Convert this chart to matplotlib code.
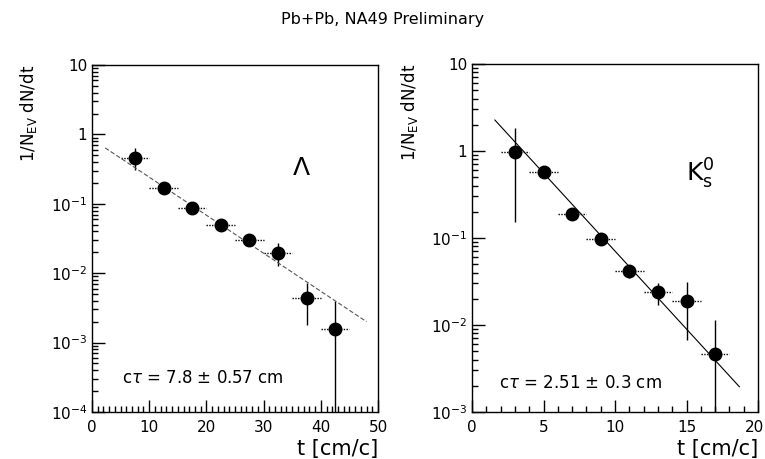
import numpy as np
import matplotlib
matplotlib.use("Agg")
import matplotlib.pyplot as plt
from matplotlib.ticker import MultipleLocator, LogLocator, FixedLocator, NullFormatter

plt.rcParams['font.family'] = ['DejaVu Sans']
plt.rcParams['mathtext.fontset'] = 'dejavusans'

# Lambda panel
lam_t = [7.5, 12.5, 17.5, 22.5, 27.5, 32.5, 37.5, 42.5]
lam_y = [0.46, 0.17, 0.088, 0.050, 0.030, 0.0195, 0.0044, 0.00155]
lam_hi = [0.63, 0.19, 0.097, 0.055, 0.034, 0.027, 0.0072, 0.0040]
lam_lo = [0.31, 0.15, 0.080, 0.045, 0.026, 0.0125, 0.0018, 0.00001]
lam_fit_t = [2.3, 48.0]
lam_fit_y = [0.64, 0.002]

# K0s panel
k_t = [3, 5, 7, 9, 11, 13, 15, 17]
k_y = [0.97, 0.57, 0.19, 0.097, 0.042, 0.024, 0.019, 0.0046]
k_hi = [1.85, 0.65, 0.22, 0.11, 0.048, 0.030, 0.031, 0.0114]
k_lo = [0.153, 0.50, 0.165, 0.085, 0.035, 0.017, 0.0068, 0.0001]
k_fit_t = [1.6, 18.7]
k_fit_y = [2.27, 0.00195]


def ytick_label(v):
    if v == 1:
        return "1"
    if v == 10:
        return "10"
    return r"$\mathregular{10^{%d}}$" % int(round(np.log10(v)))


def panel(ax, t, y, hi, lo, xw, fit_t, fit_y, fit_style, xmax, xmajor, ymin, text, label):
    y = np.array(y)
    yerr = [y - np.array(lo), np.array(hi) - y]
    ax.errorbar(t, y, xerr=xw, fmt='none', ecolor='black', elinewidth=1.0,
                capsize=0).lines[2][0].set_linestyle((0, (1, 1)))
    ax.errorbar(t, y, yerr=yerr, fmt='none', ecolor='black', elinewidth=1.0, capsize=0)
    ax.plot(t, y, 'o', color='black', markersize=9, zorder=3)
    ax.plot(fit_t, fit_y, **fit_style)
    ax.set_yscale('log')
    ax.set_xlim(0, xmax)
    ax.set_ylim(ymin, 10)
    ax.xaxis.set_minor_locator(MultipleLocator(1))
    xt = np.arange(0, xmax + 1, xmajor)
    ax.set_xticks(xt)
    ax.set_xticklabels([str(int(v)) for v in xt])
    majors = [10.0 ** k for k in range(int(np.log10(ymin)), 2)]
    ax.yaxis.set_major_locator(FixedLocator(majors))
    ax.set_yticklabels([ytick_label(v) for v in majors])
    ax.yaxis.set_minor_locator(LogLocator(base=10, subs=np.arange(2, 10)))
    ax.yaxis.set_minor_formatter(NullFormatter())
    ax.tick_params(which='both', direction='in', top=False, right=False,
                   labelsize=11, width=1.0)
    ax.tick_params(which='major', length=9)
    ax.tick_params(which='minor', length=4)
    ax.tick_params(axis='x', pad=6)
    for s in ax.spines.values():
        s.set_linewidth(1.0)
    ax.set_ylabel(r"1/N$_{\mathregular{EV}}$ dN/dt", fontsize=12, loc='top', labelpad=8)
    ax.set_xlabel("t [cm/c]", fontsize=15, loc='right', labelpad=3)
    ax.text(text[0], text[1], text[2], fontsize=12)
    ax.text(label[0], label[1], label[2], fontsize=18)


fig = plt.figure(figsize=(7.65, 4.59), dpi=100)
ax1 = fig.add_axes([92 / 765, 47 / 459, 286 / 765, 347 / 459])
ax2 = fig.add_axes([472 / 765, 47 / 459, 286 / 765, 348 / 459])

panel(ax1, lam_t, lam_y, lam_hi, lam_lo, 2.5, lam_fit_t, lam_fit_y,
      dict(color='#555555', linestyle=(0, (4, 2)), linewidth=0.8),
      50, 10, 1e-4, (5.2, 2.6e-4, r"c$\tau$ = 7.8 $\pm$ 0.57 cm"),
      (35.0, 0.26, r"$\Lambda$"))
panel(ax2, k_t, k_y, k_hi, k_lo, 1.0, k_fit_t, k_fit_y,
      dict(color='black', linestyle='-', linewidth=0.8),
      20, 5, 1e-3, (1.9, 1.9e-3, r"c$\tau$ = 2.51 $\pm$ 0.3 cm"),
      (15.0, 0.45, r"K$^{\mathregular{0}}_{\mathregular{s}}$"))

# last label of the right panel sits flush with the figure edge
labels2 = [t.get_text() for t in ax2.get_xticklabels()]
last_label = labels2[-1]
labels2[-1] = ""
ax2.set_xticklabels(labels2)
ax2.text(1.0 - 4 / 286, -0.024, last_label, transform=ax2.transAxes,
         ha='center', va='top', fontsize=11)

fig.text(0.5, 0.958, "Pb+Pb, NA49 Preliminary", ha='center', va='center', fontsize=11.5)

fig.savefig("out.png", dpi=100)
